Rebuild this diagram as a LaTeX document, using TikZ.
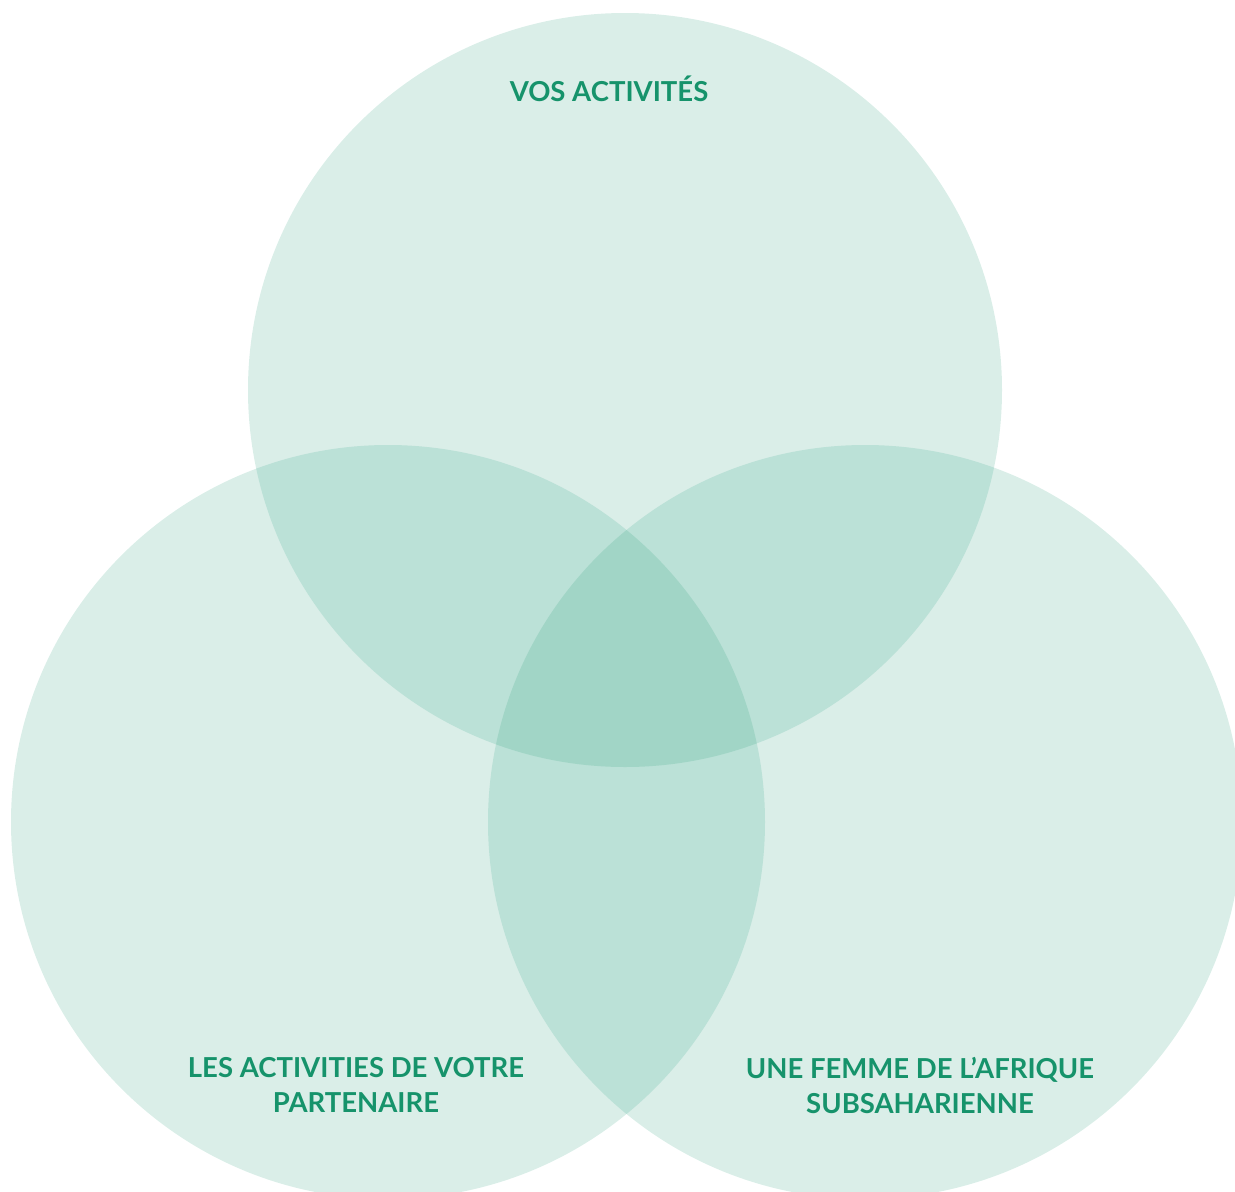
\documentclass[tikz,border=0pt]{standalone}
\usepackage{fontspec}
\setmainfont{Lato}
\definecolor{one}{HTML}{DAEEE8}
\definecolor{two}{HTML}{BBE1D7}
\definecolor{three}{HTML}{A1D5C6}
\definecolor{txt}{HTML}{16936B}
\begin{document}
\begin{tikzpicture}[x=1pt,y=-1pt,
  lbl/.style={text=txt,font=\bfseries\fontsize{27.5}{35}\selectfont,align=center,inner sep=0pt}]
\useasboundingbox (0,0) rectangle (1235,1192);
\begin{scope}
\clip (0,0) rectangle (1235,1192);
\def\A{(625,390) circle (377)}
\def\B{(388,822) circle (377)}
\def\C{(865,822) circle (377)}
\fill[one] \A; \fill[one] \B; \fill[one] \C;
\begin{scope}\clip \A; \fill[two] \B; \fill[two] \C; \end{scope}
\begin{scope}\clip \B; \fill[two] \C; \end{scope}
\begin{scope}\clip \A; \clip \B; \fill[three] \C; \end{scope}
\end{scope}
\node[lbl] (top) at (609,89) {VOS ACTIVITÉS};
\node[lbl] (left) at (356,1085) {LES ACTIVITIES DE VOTRE\\PARTENAIRE};
\node[lbl] (right) at (920,1085) {UNE FEMME DE L’AFRIQUE\\SUBSAHARIENNE};
\end{tikzpicture}
\end{document}
